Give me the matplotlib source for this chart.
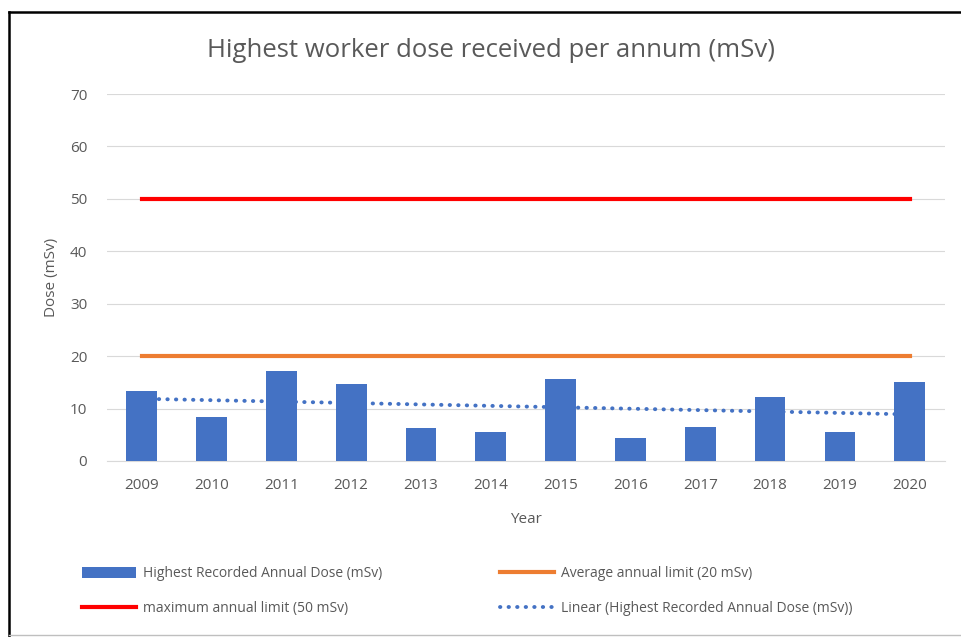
import numpy as np
import matplotlib.pyplot as plt
from matplotlib.lines import Line2D
from matplotlib.patches import Patch

# Dados
anos = ['2009', '2010', '2011', '2012', '2013', '2014',
        '2015', '2016', '2017', '2018', '2019', '2020']
dose_max = [13.4, 8.3, 17.1, 14.7, 6.2, 5.6, 15.6, 4.4, 6.5, 12.2, 5.6, 15.0]
limite_medio = [20] * len(anos)
limite_maximo = [50] * len(anos)
y_ticks = [0, 10, 20, 30, 40, 50, 60, 70]

azul = '#4472C4'
laranja = '#ED7D31'
vermelho = '#FF0000'
cinza = '#595959'
pontilhado = (0, (0.1, 2.1))

plt.rcParams['font.family'] = ['Open Sans', 'DejaVu Sans']

fig = plt.figure(figsize=(9.62, 6.37), dpi=100)
ax = fig.add_axes([0.111, 0.2763, 0.871, 0.5761])

x = np.arange(len(anos))

# tendência linear (ajuste por mínimos quadrados)
coef = np.polyfit(x, dose_max, 1)
tendencia = np.polyval(coef, x)
ax.plot(x, tendencia, color=azul, linewidth=2.8,
        linestyle=pontilhado, dash_capstyle='round', zorder=2)

ax.bar(x, dose_max, width=0.44, color=azul, zorder=3)
ax.plot(x, limite_medio, color=laranja, linewidth=3, zorder=4)
ax.plot(x, limite_maximo, color=vermelho, linewidth=3, zorder=4)

ax.set_xlim(-0.5, len(anos) - 0.5)
ax.set_ylim(0, 70)
ax.set_yticks(y_ticks)
ax.set_xticks(x)
ax.set_xticklabels(anos)
ax.yaxis.grid(True, color='#D9D9D9', linewidth=0.8)
ax.set_axisbelow(True)
for s in ['top', 'right', 'left']:
    ax.spines[s].set_visible(False)
ax.spines['bottom'].set_color('#D9D9D9')
ax.tick_params(length=0, colors=cinza, labelsize=11, pad=12)
ax.tick_params(axis='y', pad=14)

ax.set_xlabel('Year', color=cinza, fontsize=11, labelpad=14)
ax.set_ylabel('Dose (mSv)', color=cinza, fontsize=11, labelpad=8)
fig.text(0.51, 0.921, 'Highest worker dose received per annum (mSv)',
         ha='center', va='center', color=cinza, fontsize=18.5)

# legenda
handles = [
    Patch(facecolor=azul),
    Line2D([], [], color=vermelho, linewidth=3),
    Line2D([], [], color=laranja, linewidth=3),
    Line2D([], [], color=azul, linewidth=2.8, linestyle=pontilhado,
           dash_capstyle='round'),
]
labels = [
    'Highest Recorded Annual Dose (mSv)',
    'maximum annual limit (50 mSv)',
    'Average annual limit (20 mSv)',
    'Linear (Highest Recorded Annual Dose (mSv))',
]
fig.legend(handles, labels, ncol=2, loc='center left',
           bbox_to_anchor=(0.072, 0.072), frameon=False,
           fontsize=10, labelcolor=cinza, handlelength=3.9,
           handleheight=0.9, handletextpad=0.5, columnspacing=8.5,
           labelspacing=1.45)

# moldura
fig.add_artist(Line2D([0.0094, 1.0], [0.981, 0.981], color='black',
                      linewidth=1.8, transform=fig.transFigure))
fig.add_artist(Line2D([0.0094, 0.0094], [0.0, 0.981], color='black',
                      linewidth=1.8, transform=fig.transFigure))
fig.add_artist(Line2D([0.0094, 1.0], [0.003, 0.003], color='#BFBFBF',
                      linewidth=1, transform=fig.transFigure))

fig.savefig('out.png', dpi=100)
